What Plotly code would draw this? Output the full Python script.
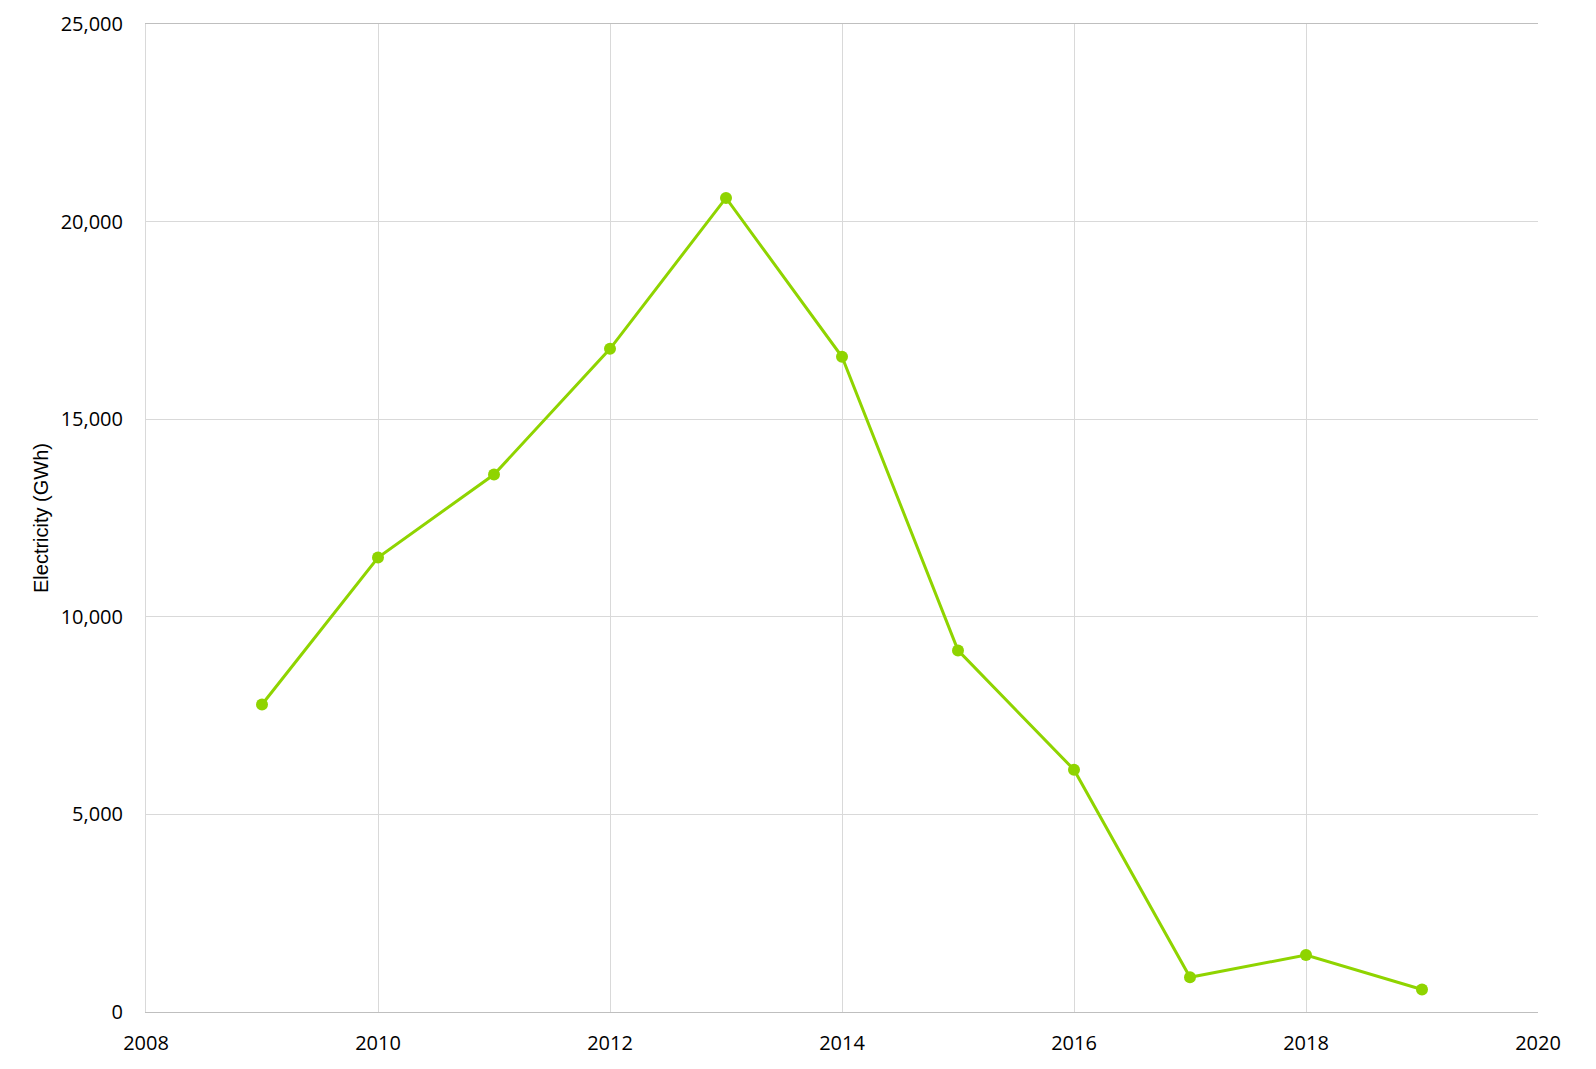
import plotly.graph_objects as go

years = [2009, 2010, 2011, 2012, 2013, 2014, 2015, 2016, 2017, 2018, 2019]
electricity_gwh = [7780, 11500, 13600, 16780, 20600, 16580, 9150, 6130, 880, 1440, 570]

x_ticks = [2008, 2010, 2012, 2014, 2016, 2018, 2020]
y_ticks = [0, 5000, 10000, 15000, 20000, 25000]

green = 'rgb(143, 212, 0)'

fig = go.Figure()

fig.add_trace(go.Scatter(
    x=years,
    y=electricity_gwh,
    mode='lines+markers',
    line=dict(color=green, width=3),
    marker=dict(color=green, size=12),
    showlegend=False,
))

# the page body adds an 8px offset, so the margins are shifted to compensate
fig.update_layout(
    width=1596,
    height=1069,
    margin=dict(l=138, r=66, t=16, b=65),
    plot_bgcolor='white',
    paper_bgcolor='white',
    font=dict(family='Open Sans', size=20, color='black'),
)

fig.update_xaxes(
    range=[2008, 2020],
    tickvals=x_ticks,
    showgrid=True,
    gridcolor='#d9d9d9',
    gridwidth=1,
    showline=True,
    linecolor='#bfbfbf',
    linewidth=1,
    mirror=True,
    zeroline=False,
    ticks='',
    ticklabelstandoff=13,
    automargin=False,
)

fig.update_yaxes(
    range=[0, 25000],
    tickvals=y_ticks,
    tickformat=',',
    showgrid=True,
    gridcolor='#d9d9d9',
    gridwidth=1,
    showline=True,
    linecolor='#d9d9d9',
    linewidth=1,
    zeroline=False,
    ticks='',
    ticklabelstandoff=18,
    automargin=False,
    title=dict(text='Electricity (GWh)', font=dict(family='Liberation Sans', size=20), standoff=6),
)

fig.write_html("out.html")
